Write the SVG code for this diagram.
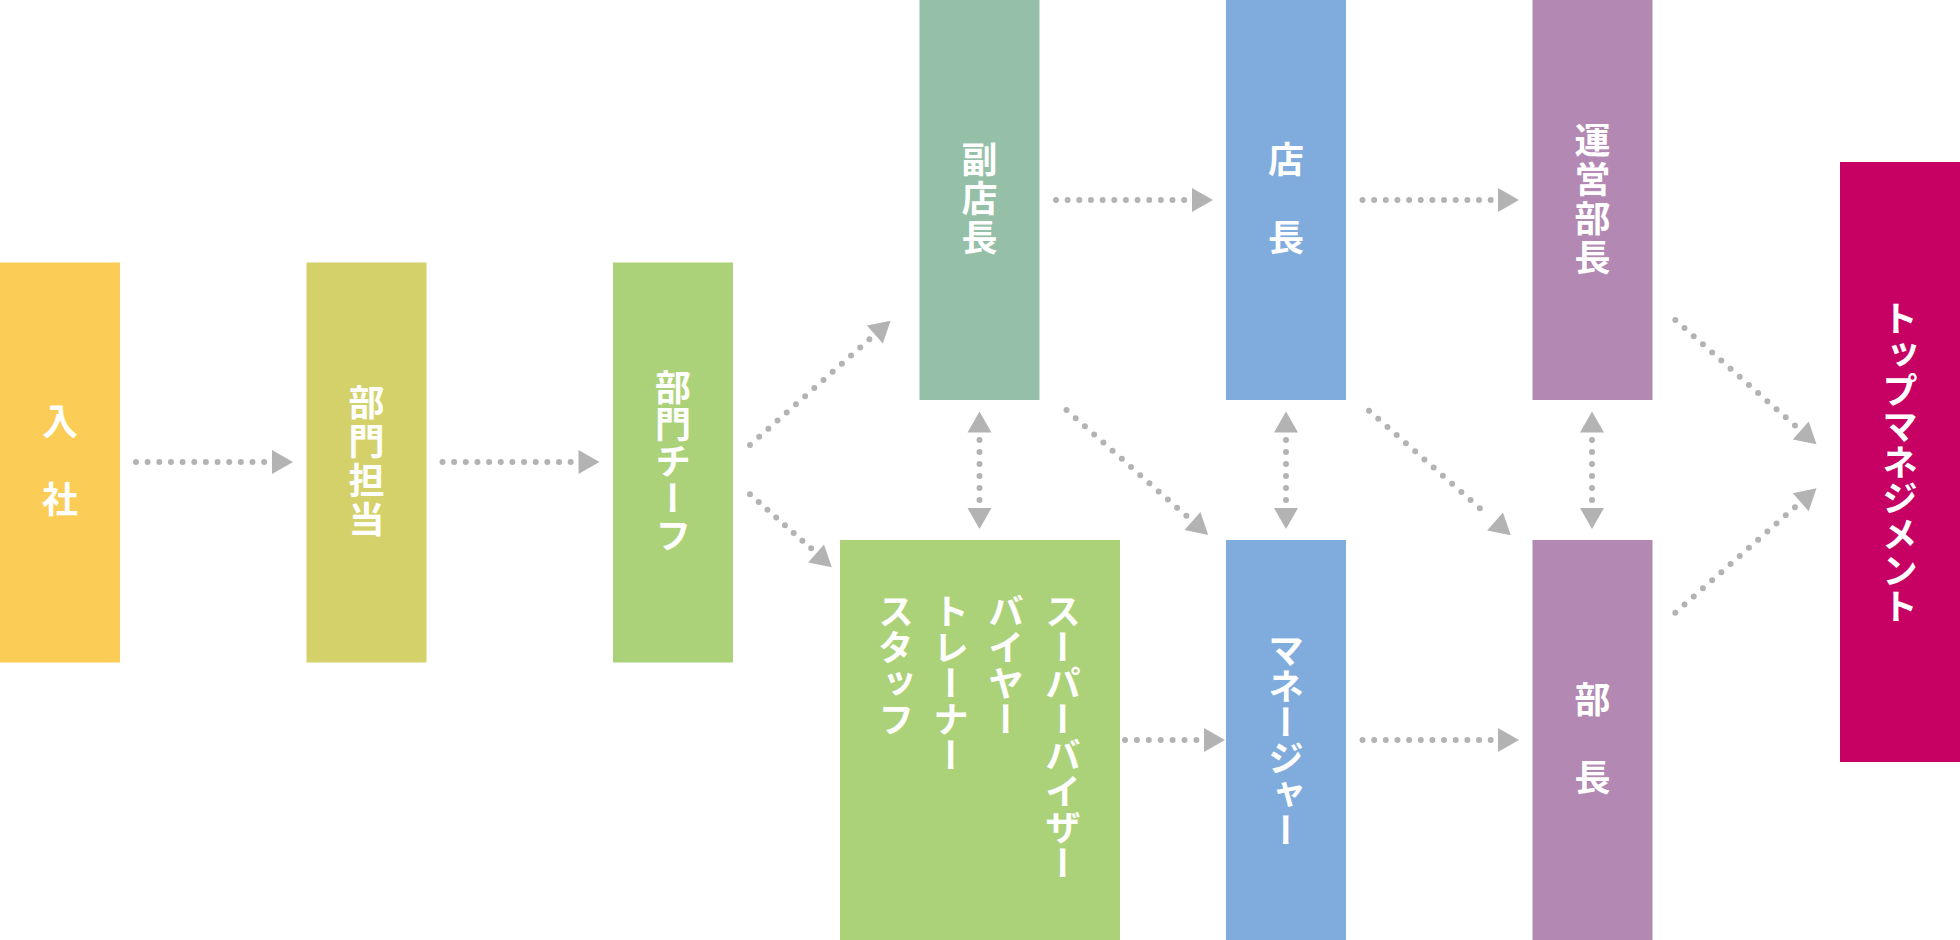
<svg xmlns="http://www.w3.org/2000/svg" width="1960" height="940" viewBox="0 0 1960 940">
<style>
.lbl{font-family:"Noto Sans CJK JP","Noto Sans CJK SC",sans-serif;font-size:36px;font-weight:700;fill:#ffffff;writing-mode:vertical-rl;text-anchor:middle;}
.kj{letter-spacing:3px;}
.col{text-anchor:start;}
.dot{stroke:#b3b3b3;stroke-width:6;stroke-linecap:round;fill:none;}
.head{fill:#b3b3b3;}
</style>
<defs>
<path id="ah" d="M-21,-12 L0,0 L-21,12 Z"/>
</defs>
<rect width="1960" height="940" fill="#ffffff"/>
<g id="node-nyusha">
<rect x="0" y="262.5" width="120" height="400" fill="#fbcd56"/>
<text class="lbl kj" x="60" y="462">入　社</text>
</g>
<g id="node-bumon-tanto">
<rect x="306.5" y="262.5" width="120" height="400" fill="#d4d16a"/>
<text class="lbl kj" x="366.5" y="462">部門担当</text>
</g>
<g id="node-bumon-chief">
<rect x="613" y="262.5" width="120" height="400" fill="#acd279"/>
<text class="lbl" style="letter-spacing:1px" x="673" y="462">部門チーフ</text>
</g>
<g id="node-fukutencho">
<rect x="919.5" y="0" width="120" height="400" fill="#95c0a7"/>
<text class="lbl kj" x="979.5" y="200">副店長</text>
</g>
<g id="node-tencho">
<rect x="1226" y="0" width="120" height="400" fill="#7facdc"/>
<text class="lbl kj" x="1286" y="200">店　長</text>
</g>
<g id="node-uneibucho">
<rect x="1532.5" y="0" width="120" height="400" fill="#b388b3"/>
<text class="lbl kj" x="1592.5" y="200">運営部長</text>
</g>
<g id="node-staff">
<rect x="840" y="540" width="280" height="400" fill="#acd279"/>
<text class="lbl col" x="1063" y="593">スーパーバイザー</text>
<text class="lbl col" x="1006" y="593">バイヤー</text>
<text class="lbl col" x="951" y="593">トレーナー</text>
<text class="lbl col" x="896" y="593">スタッフ</text>
</g>
<g id="node-manager">
<rect x="1226" y="540" width="120" height="400" fill="#7facdc"/>
<text class="lbl" x="1286" y="740">マネージャー</text>
</g>
<g id="node-bucho">
<rect x="1532.5" y="540" width="120" height="400" fill="#b388b3"/>
<text class="lbl kj" x="1592.5" y="740">部　長</text>
</g>
<g id="node-top">
<rect x="1840" y="162" width="120" height="600" fill="#c70063"/>
<text class="lbl" x="1900" y="462">トップマネジメント</text>
</g>
<g id="connectors">
<line class="dot" x1="136" y1="462" x2="264.5" y2="462" stroke-dasharray="0 11.65"/>
<use href="#ah" class="head" transform="translate(293,462)"/>
<line class="dot" x1="442.5" y1="462" x2="571" y2="462" stroke-dasharray="0 11.65"/>
<use href="#ah" class="head" transform="translate(599.5,462)"/>
<line class="dot" x1="1056" y1="200" x2="1184.5" y2="200" stroke-dasharray="0 11.65"/>
<use href="#ah" class="head" transform="translate(1213,200)"/>
<line class="dot" x1="1362.5" y1="200" x2="1491" y2="200" stroke-dasharray="0 11.65"/>
<use href="#ah" class="head" transform="translate(1519,200)"/>
<line class="dot" x1="1125" y1="740" x2="1196.8" y2="740" stroke-dasharray="0 11.9"/>
<use href="#ah" class="head" transform="translate(1225,740)"/>
<line class="dot" x1="1362.5" y1="740" x2="1491" y2="740" stroke-dasharray="0 11.65"/>
<use href="#ah" class="head" transform="translate(1519,740)"/>
<line class="dot" x1="750" y1="445" x2="869.6" y2="339.1" stroke-dasharray="0 12.27"/>
<use href="#ah" class="head" transform="translate(890.6,320.7) rotate(-41.4)"/>
<line class="dot" x1="750" y1="494.3" x2="811.3" y2="548.5" stroke-dasharray="0 11.66"/>
<use href="#ah" class="head" transform="translate(831.8,567.3) rotate(41.4)"/>
<line class="dot" x1="1066.5" y1="410" x2="1186.7" y2="516.2" stroke-dasharray="0 12.3"/>
<use href="#ah" class="head" transform="translate(1208.2,535) rotate(41.4)"/>
<line class="dot" x1="1369" y1="410.7" x2="1489" y2="516.3" stroke-dasharray="0 12.3"/>
<use href="#ah" class="head" transform="translate(1510.8,535.3) rotate(41.4)"/>
<line class="dot" x1="1675.3" y1="320" x2="1795" y2="425.5" stroke-dasharray="0 12.27"/>
<use href="#ah" class="head" transform="translate(1816.5,444.3) rotate(41.4)"/>
<line class="dot" x1="1675.3" y1="612.7" x2="1795" y2="507.2" stroke-dasharray="0 12.27"/>
<use href="#ah" class="head" transform="translate(1816.5,488.3) rotate(-41.4)"/>
<line class="dot" x1="979.5" y1="440" x2="979.5" y2="500.3" stroke-dasharray="0 12"/>
<use href="#ah" class="head" transform="translate(979.5,411.5) rotate(-90)"/>
<use href="#ah" class="head" transform="translate(979.5,529) rotate(90)"/>
<line class="dot" x1="1286" y1="440" x2="1286" y2="500.3" stroke-dasharray="0 12"/>
<use href="#ah" class="head" transform="translate(1286,411.5) rotate(-90)"/>
<use href="#ah" class="head" transform="translate(1286,529) rotate(90)"/>
<line class="dot" x1="1592" y1="440" x2="1592" y2="500.3" stroke-dasharray="0 12"/>
<use href="#ah" class="head" transform="translate(1592,411.5) rotate(-90)"/>
<use href="#ah" class="head" transform="translate(1592,529) rotate(90)"/>
</g>
</svg>
